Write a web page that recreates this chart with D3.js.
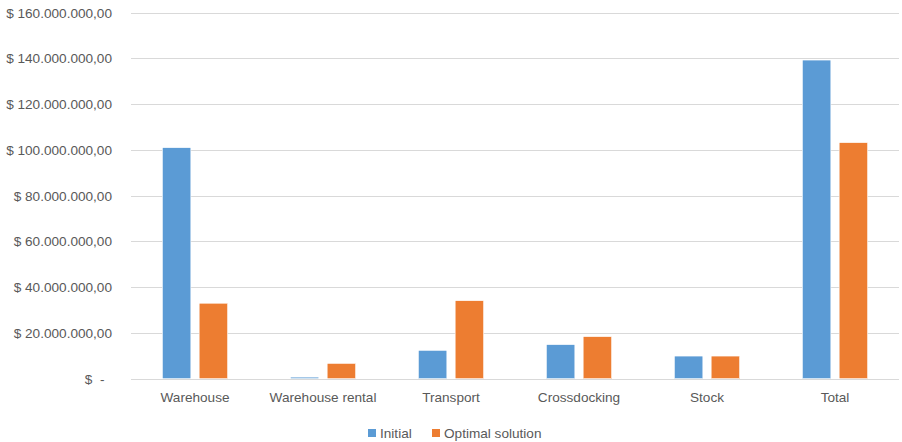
<!DOCTYPE html>
<html><head><meta charset="utf-8">
<script src="https://cdn.jsdelivr.net/npm/d3@7/dist/d3.min.js"></script>
<style>
html,body{margin:0;padding:0;background:#fff;}
svg{display:block;font-family:"Liberation Sans",Arial,sans-serif;}
text{fill:#595959;white-space:pre;}
</style></head>
<body>
<svg id="chart" width="902" height="442"></svg>
<script>
const categories = ["Warehouse","Warehouse rental","Transport","Crossdocking","Stock","Total"];
const seriesNames = ["Initial","Optimal solution"];
const initialValues = [101000000, 700000, 12400000, 14900000, 9900000, 139300000];
const optimalValues = [33000000, 6700000, 34100000, 18400000, 9900000, 103200000];
const yTicks = [0,20000000,40000000,60000000,80000000,100000000,120000000,140000000,160000000];
const colors = ["#5B9BD5","#ED7D31"];

(function(){
const svg = d3.select("#chart");
const pL = 131, pR = 899, pT = 12.7, pB = 378.7;

const x = d3.scaleBand().domain(categories).range([pL, pR]).paddingInner(0).paddingOuter(0);
const x1 = d3.scaleBand().domain(seriesNames).range([0, x.bandwidth()]).paddingInner(0.2255).paddingOuter(0.852);
const y = d3.scaleLinear().domain([0,160000000]).range([pB, pT]);

function fmt(v){
  if (v === 0) return "$  -  ";
  const s = d3.format(",.2f")(v).replace(/,/g,"#").replace(".",",").replace(/#/g,".");
  return "$ " + s;
}

// gridlines
svg.append("g").selectAll("line").data(yTicks).join("line")
  .attr("x1",pL).attr("x2",pR)
  .attr("y1",d=>Math.round(y(d))+0.5).attr("y2",d=>Math.round(y(d))+0.5)
  .attr("stroke","#d9d9d9").attr("stroke-width",1);

const yAxis = d3.axisLeft(y).tickValues(yTicks).tickFormat(fmt).tickSize(0).tickPadding(19);
const gy = svg.append("g").attr("transform",`translate(${pL},0)`).call(yAxis);
gy.select(".domain").remove();
gy.selectAll("text").attr("font-size","13.6px").attr("fill","#595959").attr("font-family",null);

// bars
const data = categories.map((c,i)=>({cat:c, vals:[initialValues[i], optimalValues[i]]}));
const groups = svg.append("g").selectAll("g").data(data).join("g")
  .attr("transform",d=>`translate(${x(d.cat)},0)`);
groups.selectAll("rect").data(d=>d.vals.map((v,j)=>({name:seriesNames[j],v,j}))).join("rect")
  .attr("x",d=>x1(d.name)).attr("width",x1.bandwidth())
  .attr("y",d=>y(d.v)).attr("height",d=>y(0)-y(d.v))
  .attr("fill",d=>colors[d.j]).attr("stroke","#fff").attr("stroke-width",0.6);

// x axis
const xAxis = d3.axisBottom(x).tickSize(0).tickPadding(14);
const gx = svg.append("g").attr("transform",`translate(0,${pB})`).call(xAxis);
gx.select(".domain").remove();
gx.selectAll("text").attr("font-size","13.6px").attr("fill","#595959").attr("font-family",null);
svg.append("line").attr("x1",pL).attr("x2",pR).attr("y1",Math.round(pB)+0.5).attr("y2",Math.round(pB)+0.5)
  .attr("stroke","#d9d9d9").attr("stroke-width",1);

// legend
const legX = [368, 432];
const leg = svg.append("g").selectAll("g").data(seriesNames).join("g")
  .attr("transform",(d,i)=>`translate(${legX[i]},429)`);
leg.append("rect").attr("width",8).attr("height",8).attr("fill",(d,i)=>colors[i]);
leg.append("text").attr("x",12).attr("y",8.5).attr("font-size","13.6px").text(d=>d);
})();
</script>
</body></html>
